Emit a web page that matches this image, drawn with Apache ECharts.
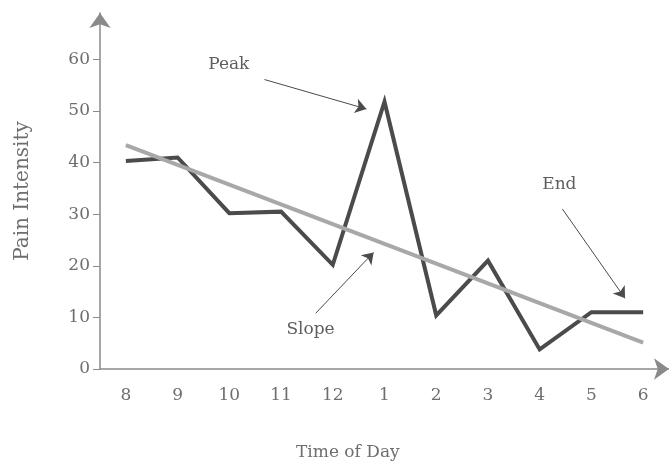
<!DOCTYPE html>
<html>
<head>
<meta charset="utf-8">
<script src="https://cdn.jsdelivr.net/npm/echarts@6/dist/echarts.min.js"></script>
<style>
  html, body { margin: 0; padding: 0; background: #fff; }
  #chart { width: 669px; height: 469px; }
</style>
</head>
<body>
<div id="chart"></div>
<script>
// hours of the day
var hours = ['8', '9', '10', '11', '12', '1', '2', '3', '4', '5', '6'];
// pain intensity per hour
var pain = [40.3, 41, 30.2, 30.5, 20.2, 51.8, 10.4, 21, 3.8, 11, 11];
// slope line, read at both ends
var slopeX = [0, 10];
var slopeY = [43.4, 5.1];
var yTicks = [0, 10, 20, 30, 40, 50, 60];

// annotations (x in hour index, y in pain units)
var notes = [
    {text: 'Peak', at: [1.99, 59.0], from: [2.68, 56.1], to: [4.65, 50.4]},
    {text: 'Slope', at: [3.57, 7.6], from: [3.67, 10.8], to: [4.79, 22.6]},
    {text: 'End', at: [8.38, 35.7], from: [8.44, 31.0], to: [9.65, 13.7]}
];

var font = 'DejaVu Serif';
var chart = echarts.init(document.getElementById('chart'));

var option = {
    backgroundColor: '#fff',
    animation: false,
    grid: {left: 100, right: 0, top: 13, bottom: 100, containLabel: false, outerBoundsMode: 'none'},
    xAxis: [{
        type: 'category',
        data: hours,
        boundaryGap: true,
        axisLine: {
            onZero: false,
            lineStyle: {color: '#8a8a8a', width: 1.5},
            symbol: ['none', 'arrow'],
            symbolSize: [16, 15]
        },
        axisTick: {alignWithLabel: true, length: 5, lineStyle: {color: '#8a8a8a'}},
        axisLabel: {color: '#6e6e6e', fontFamily: font, fontSize: 17, margin: 18},
        splitLine: {show: false}
    }, {
        type: 'value',
        min: -0.5,
        max: 10.5,
        show: false
    }],
    yAxis: {
        type: 'value',
        min: 0,
        max: 69,
        name: 'Pain Intensity',
        nameLocation: 'middle',
        nameGap: 67,
        nameTextStyle: {color: '#6e6e6e', fontFamily: font, fontSize: 20},
        axisLine: {
            show: true,
            onZero: false,
            lineStyle: {color: '#8a8a8a', width: 1.5},
            symbol: ['none', 'arrow'],
            symbolSize: [16, 15]
        },
        axisTick: {show: true, length: 7, customValues: yTicks, lineStyle: {color: '#8a8a8a'}},
        axisLabel: {color: '#6e6e6e', fontFamily: font, fontSize: 17, margin: 10, customValues: yTicks},
        splitLine: {show: false}
    },
    graphic: [{
        type: 'text',
        left: 296,
        top: 444,
        style: {text: 'Time of Day', fill: '#6e6e6e', font: '17px "DejaVu Serif"'}
    }],
    series: [{
        type: 'line',
        data: pain,
        symbol: 'none',
        lineStyle: {color: '#4b4b4b', width: 4, join: 'miter'},
        z: 2
    }, {
        type: 'line',
        xAxisIndex: 1,
        data: slopeX.map(function (x, i) { return [x, slopeY[i]]; }),
        symbol: 'none',
        lineStyle: {color: '#a8a8a8', width: 4},
        z: 3,
        markLine: {
            silent: true,
            symbol: ['none', 'arrow'],
            symbolSize: 11,
            label: {show: false},
            lineStyle: {color: '#4b4b4b', width: 1, type: 'solid'},
            data: notes.map(function (n) {
                return [{coord: n.from}, {coord: n.to}];
            })
        },
        markPoint: {
            silent: true,
            symbol: 'circle',
            symbolSize: 1,
            itemStyle: {color: 'transparent'},
            label: {
                show: true,
                position: 'inside',
                color: '#5e5e5e',
                fontFamily: font,
                fontSize: 17,
                formatter: '{b}'
            },
            data: notes.map(function (n) {
                return {name: n.text, coord: n.at};
            })
        }
    }]
};

chart.setOption(option);
</script>
</body>
</html>
